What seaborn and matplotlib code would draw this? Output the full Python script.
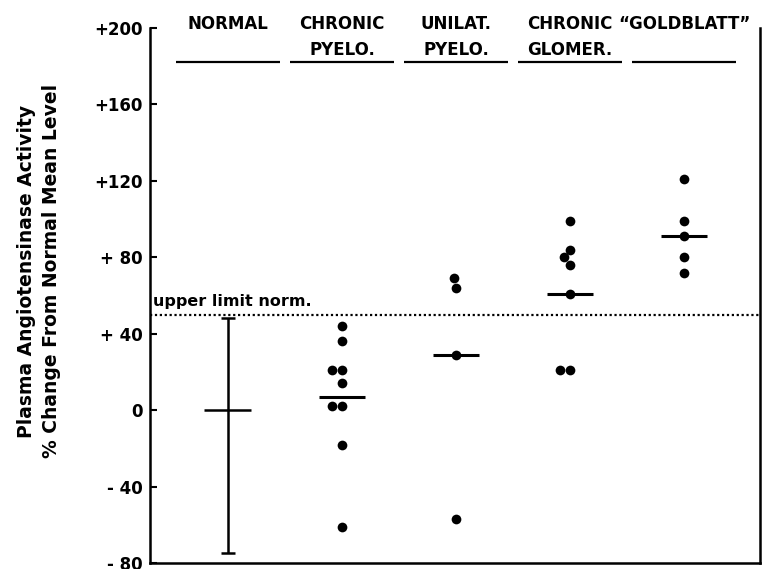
import pandas as pd
import matplotlib
matplotlib.use("Agg")
import matplotlib.pyplot as plt
import seaborn as sns

# groups, as printed across the top of the chart
groups = ["NORMAL", "CHRONIC\nPYELO.", "UNILAT.\nPYELO.", "CHRONIC\nGLOMER.", "\u201cGOLDBLATT\u201d"]

# individual patients (% change from normal mean level)
chronic_pyelo = [44, 36, 21, 21, 14, 2, 2, -18, -61]
unilat_pyelo = [69, 64, 29, -57]
chronic_glomer = [99, 84, 80, 76, 61, 21, 21]
goldblatt = [121, 99, 91, 80, 72]

# group means (horizontal bars) and normal range
group_means = [0, 7, 29, 61, 91]
normal_low = -75
normal_high = 48
upper_limit = 50

yticks = [-80, -40, 0, 40, 80, 120, 160, 200]
ytick_labels = ["- 80", "- 40", "0", "+ 40", "+ 80", "+120", "+160", "+200"]

# long table for seaborn
rows = []
for g, vals in zip(groups[1:], [chronic_pyelo, unilat_pyelo, chronic_glomer, goldblatt]):
    for v in vals:
        rows.append({"group": g, "value": v})
df = pd.DataFrame(rows)

sns.set_style("ticks")
plt.rcParams["font.family"] = ["DejaVu Sans"]
for k in ["text.color", "axes.labelcolor", "xtick.color", "ytick.color", "axes.edgecolor"]:
    plt.rcParams[k] = "black"

fig = plt.figure(figsize=(7.66, 5.69), dpi=100)
ax = fig.add_axes([150 / 766, 6 / 569, 610 / 766, 535 / 569])

# patient points
sns.swarmplot(data=df, x="group", y="value", order=groups, color="black",
              size=7, ax=ax, zorder=4)

# mean bars
pos = list(range(len(groups)))
ax.hlines(group_means[1:], [p - 0.2 for p in pos[1:]], [p + 0.2 for p in pos[1:]],
          color="black", linewidth=2.2, zorder=3)
ax.hlines(group_means[0], pos[0] - 0.21, pos[0] + 0.2, color="black", linewidth=1.8, zorder=3)

# normal range
ax.errorbar([pos[0]], [group_means[0]],
            yerr=[[group_means[0] - normal_low], [normal_high - group_means[0]]],
            fmt="none", ecolor="black", elinewidth=1.8, capsize=5, capthick=1.8)

# upper limit of normal
ax.axhline(upper_limit, color="black", linestyle=(0, (1, 1.2)), linewidth=1.6, zorder=2)
ax.text(-0.655, upper_limit + 3, "upper limit norm.", fontsize=11.5, fontweight="semibold",
        ha="left", va="bottom")

# column headers with underline
for p, g in zip(pos, groups):
    ax.text(p, 207, g, ha="center", va="top", fontsize=12, fontweight="bold",
            linespacing=1.6, clip_on=False)
    ax.hlines(182, p - 0.46, p + 0.46, color="black", linewidth=1.6)

ax.set_xlim(-0.684, 4.667)
ax.set_ylim(-80, 200)
ax.set_xticks([])
ax.set_xlabel("")
ax.set_ylabel("")
ax.set_yticks(yticks)
ax.set_yticklabels(ytick_labels, fontsize=12, fontweight="bold")
ax.tick_params(axis="y", direction="in", length=5, width=1.5, pad=5)

sns.despine(ax=ax, top=True, right=False)
for s in ["left", "bottom", "right"]:
    ax.spines[s].set_linewidth(1.8)
    ax.spines[s].set_color("black")

fig.text(39 / 766, 1 - 271 / 569,
         "Plasma Angiotensinase Activity\n% Change From Normal Mean Level",
         rotation=90, ha="center", va="center", fontsize=13.5, fontweight="bold",
         linespacing=1.45, multialignment="center")

fig.savefig("out.png", dpi=100)
